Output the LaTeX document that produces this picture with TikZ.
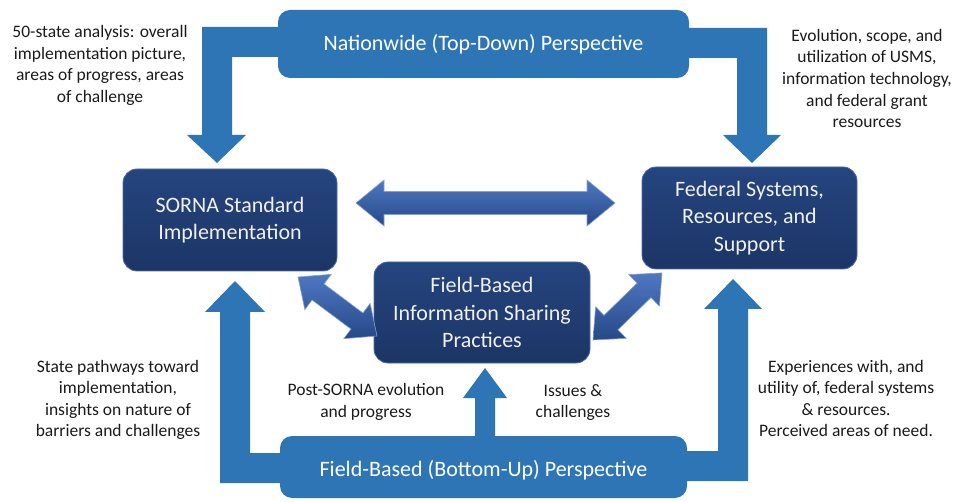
\documentclass[tikz,border=0pt]{standalone}
\usepackage{fontspec}
\setmainfont{Carlito}
\usetikzlibrary{calc}
\definecolor{bannerblue}{HTML}{2E75B6}
\definecolor{navy}{HTML}{1C3566}
\definecolor{navytop}{HTML}{25457F}
\definecolor{navyedge}{HTML}{4A6BAA}
\definecolor{arrowlight}{HTML}{4F78C2}
\definecolor{arrowdark}{HTML}{264887}
\definecolor{boxtext}{HTML}{F0F0F0}
\definecolor{sidetext}{HTML}{1A1A1A}
\newcommand{\dblarrow}[7]{%
  \begin{scope}[shift={(#1,#2)},rotate=#3]
    \path[darrow] (0,0) -- (#5,#6) -- (#5,#7) -- (#4-#5,#7) -- (#4-#5,#6) -- (#4,0)
      -- (#4-#5,-#6) -- (#4-#5,-#7) -- (#5,-#7) -- (#5,-#6) -- cycle;
  \end{scope}}
\begin{document}
\begin{tikzpicture}[x=1pt,y=-1pt,
  banner/.style={fill=bannerblue, rounded corners=12pt, text=white, font=\fontsize{22}{27}\selectfont, inner sep=0pt},
  darkbox/.style={top color=navytop, bottom color=navy, draw=navyedge, line width=0.8pt, rounded corners=14pt,
    text=boxtext, font=\fontsize{22}{27.5}\selectfont, align=center, inner sep=0pt},
  sidelabel/.style={text=sidetext, font=\fontsize{17.5}{21.6}\selectfont, align=center, inner sep=0pt},
  bentarrow/.style={fill=bannerblue},
  darrow/.style={top color=arrowlight, bottom color=arrowdark, draw=arrowlight!70!white, line width=0.6pt}
]
\useasboundingbox (0,0) rectangle (955,502);

% bent arrows (top)
\path[bentarrow] (284,27) -- (202,27) -- (202,135) -- (187,135) -- (217,163) -- (246,135) -- (232,135) -- (232,57) -- (284,57) -- cycle;
\path[bentarrow] (683,28) -- (767,28) -- (767,135) -- (781,135) -- (752,163) -- (723,135) -- (737,135) -- (737,58) -- (683,58) -- cycle;
% bent arrows (bottom)
\path[bentarrow] (286,483) -- (220,483) -- (220,312) -- (205,312) -- (235,281) -- (265,312) -- (250,312) -- (250,453) -- (286,453) -- cycle;
\path[bentarrow] (681,481) -- (748,481) -- (748,309) -- (762,309) -- (733,279) -- (704,309) -- (718,309) -- (718,451) -- (681,451) -- cycle;
% middle up arrow
\path[bentarrow] (475,440) -- (475,398) -- (463,398) -- (485,368) -- (507,398) -- (495,398) -- (495,440) -- cycle;

% banners
\node[banner, minimum width=411pt, minimum height=68pt] (top) at (483.5,44) {Nationwide (Top-Down) Perspective};
\node[banner, minimum width=407pt, minimum height=62pt, text depth=0pt] (bottom) at (483.5,467) {\raisebox{-3pt}{Field-Based (Bottom-Up) Perspective}};

% boxes
\node[darkbox, minimum width=214pt, minimum height=102pt] (sorna) at (230,220) {SORNA Standard\\Implementation};
\node[darkbox, minimum width=215pt, minimum height=102pt] (fed) at (749.5,218) {Federal Systems,\\Resources, and\\Support};
\node[darkbox, minimum width=216pt, minimum height=101pt] (mid) at (482,312.5) {Field-Based\\Information Sharing\\Practices};

% double arrows
\dblarrow{356}{203}{0}{259}{28}{23}{11.5}
\dblarrow{298}{277}{-36.75}{98.6}{25}{22}{10}
\dblarrow{593}{340}{44.2}{96.2}{25}{22}{10}

% side labels
\node[sidelabel] (tl) at (100,65.5) {50-state analysis: overall\\implementation picture,\\areas of progress, areas\\of challenge};
\node[sidelabel] (tr) at (867,78.5) {Evolution, scope, and\\utilization of USMS,\\information technology,\\and federal grant\\resources};
\node[sidelabel] (bl) at (118,400) {State pathways toward\\implementation,\\insights on nature of\\barriers and challenges};
\node[sidelabel] (br) at (846,398.5) {Experiences with, and\\utility of, federal systems\\\& resources.\\Perceived areas of need.};
\node[sidelabel] (pl) at (366,402) {Post-SORNA evolution\\and progress};
\node[sidelabel] (il) at (573,402.5) {Issues \&\\challenges};
\end{tikzpicture}
\end{document}
